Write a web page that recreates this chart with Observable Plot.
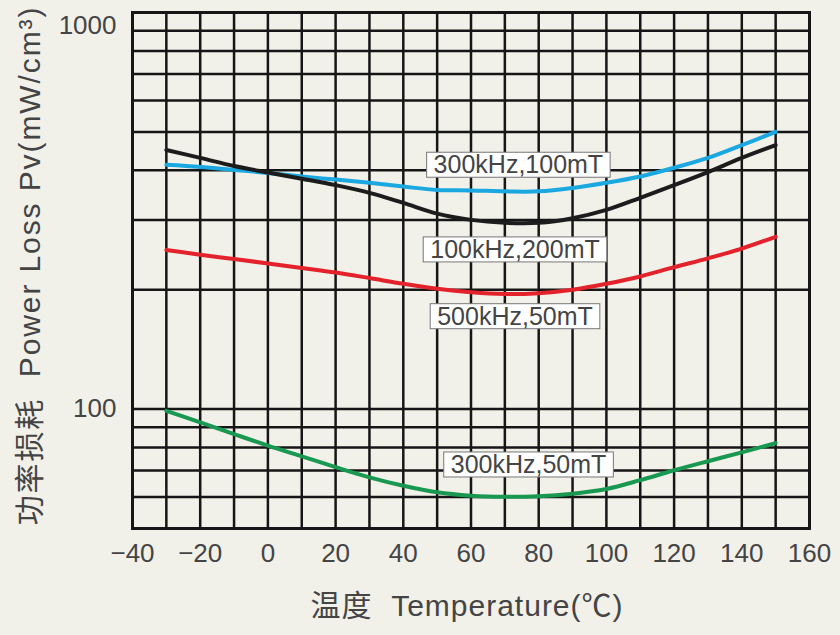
<!DOCTYPE html>
<html><head><meta charset="utf-8">
<script src="https://cdn.jsdelivr.net/npm/d3@7"></script>
<script src="https://cdn.jsdelivr.net/npm/@observablehq/plot@0.6"></script>
<style>html,body{margin:0;padding:0;background:#f1f0e9;} svg{display:block;}</style>
</head><body><div id="chart"></div>
<script>
// ---- data ----
const temperatures = [-30, -20, -10, 0, 10, 20, 30, 40, 50, 60, 70, 80, 90, 100, 110, 120, 130, 140, 150];
const loss300k100mT = [413, 408, 401, 394, 386, 379, 372, 364, 357, 356, 354, 354, 361, 372, 386, 406, 430, 463, 500];
const loss100k200mT = [450, 430, 410, 395, 381, 367, 351, 331, 311, 300, 295, 295, 303, 318, 341, 367, 396, 430, 463];
const loss500k50mT  = [252, 245, 239, 233, 227, 221, 214, 207, 201, 197, 195, 196, 200, 207, 216, 228, 240, 254, 272];
const loss300k50mT  = [99, 92.6, 86.5, 80.9, 76.0, 71.4, 67.3, 64.1, 61.7, 60.5, 60.1, 60.3, 61.2, 62.9, 66.2, 70.1, 73.9, 77.8, 82.1];
const seriesNames = ["300kHz,100mT", "100kHz,200mT", "500kHz,50mT", "300kHz,50mT"];
const seriesColors = ["#1ba7e0", "#1c1c1c", "#e3222b", "#189850"];
const labelTemps = [74, 73, 73, 77];
const labelLoss = [412, 252, 171, 72.3];
const xTicks = [-40, -20, 0, 20, 40, 60, 80, 100, 120, 140, 160];
const xGrid = [-40, -30, -20, -10, 0, 10, 20, 30, 40, 50, 60, 70, 80, 90, 100, 110, 120, 130, 140, 150, 160];
const yGrid = [50, 60, 70, 80, 90, 100, 200, 300, 400, 500, 600, 700, 800, 900, 1000];
const yTickLow = [100];
const yTickHigh = [1000];
const xTitle = "温度  Temperature(℃)";
const yTitle = "功率损耗  Power Loss Pv(mW/cm³)";

// ---- table ----
const seriesValues = [loss300k100mT, loss100k200mT, loss500k50mT, loss300k50mT];
const rows = [];
seriesValues.forEach((vals, s) => vals.forEach((v, i) => rows.push({t: temperatures[i], pv: v, series: seriesNames[s]})));
const labels = seriesNames.map((name, i) => ({name, t: labelTemps[i], pv: labelLoss[i]}));

const FONT = "'Liberation Sans', Arial, 'Noto Sans CJK SC', sans-serif";
const TXT = "#444";
const fmt = d => d < 0 ? "\u2212" + Math.abs(d) : String(d);

const svg = Plot.plot({
  width: 840, height: 635,
  marginLeft: 132, marginRight: 31, marginTop: 12, marginBottom: 107,
  style: {background: "#f1f0e9", fontFamily: FONT, color: TXT},
  x: {domain: [-40, 160]},
  y: {type: "log", domain: [50, 1000]},
  color: {domain: seriesNames, range: seriesColors},
  marks: [
    Plot.gridX(xGrid, {stroke: "#161616", strokeOpacity: 1, strokeWidth: 2.5}),
    Plot.gridY(yGrid, {stroke: "#161616", strokeOpacity: 1, strokeWidth: 2.5}),
    Plot.line(rows, {x: "t", y: "pv", z: "series", stroke: "series", strokeWidth: 4, curve: "catmull-rom"}),
    Plot.frame({stroke: "#161616", strokeWidth: 3}),
    Plot.axisX(xTicks, {tickSize: 0, tickPadding: 15, fontSize: 26, fill: TXT, tickFormat: fmt, label: null}),
    Plot.axisY(yTickLow, {tickSize: 0, tickPadding: 16, fontSize: 26, fill: TXT, tickFormat: fmt, label: null}),
    Plot.axisY(yTickHigh, {tickSize: 0, tickPadding: 16, fontSize: 26, fill: TXT, tickFormat: fmt, label: null, dy: 13}),
    Plot.text([xTitle], {frameAnchor: "bottom", textAnchor: "middle", dx: -4, dy: 87, fontSize: 30, fill: TXT, text: d => d}),
    Plot.text([yTitle], {frameAnchor: "left", textAnchor: "middle", dx: -102, dy: -5, rotate: -90, fontSize: 30, fill: TXT, text: d => d}),
    Plot.text(labels, {x: "t", y: "pv", text: "name", fontSize: 25, fill: TXT})
  ]
});
document.getElementById("chart").append(svg);

svg.querySelectorAll("text").forEach(t => {
  const s = t.textContent;
  if (s === xTitle) t.setAttribute("letter-spacing", "1");
  if (s === yTitle) t.setAttribute("letter-spacing", "1.9");
});

// white boxes behind the series labels
svg.querySelectorAll("text").forEach(t => {
  if (!seriesNames.includes(t.textContent)) return;
  const b = t.getBBox();
  const r = document.createElementNS("http://www.w3.org/2000/svg", "rect");
  r.setAttribute("x", b.x - 7);
  r.setAttribute("y", b.y + 2);
  r.setAttribute("width", b.width + 14);
  r.setAttribute("height", b.height - 3);
  r.setAttribute("fill", "#ffffff");
  r.setAttribute("stroke", "#777");
  r.setAttribute("stroke-width", 1);
  const tr = t.getAttribute("transform");
  if (tr) r.setAttribute("transform", tr);
  t.parentNode.insertBefore(r, t);
});
</script>
</body></html>
